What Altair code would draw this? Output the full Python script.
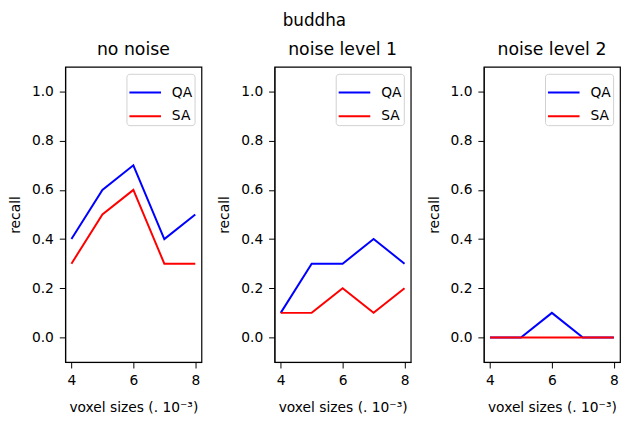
import altair as alt
import pandas as pd

voxel = [4, 5, 6, 7, 8]
panels = ["no noise", "noise level 1", "noise level 2"]
qa = {
    "no noise": [0.4, 0.6, 0.7, 0.4, 0.5],
    "noise level 1": [0.1, 0.3, 0.3, 0.4, 0.3],
    "noise level 2": [0.0, 0.0, 0.1, 0.0, 0.0],
}
sa = {
    "no noise": [0.3, 0.5, 0.6, 0.3, 0.3],
    "noise level 1": [0.1, 0.1, 0.2, 0.1, 0.2],
    "noise level 2": [0.0, 0.0, 0.0, 0.0, 0.0],
}

rows = []
for p in panels:
    for s, vals in (("QA", qa[p]), ("SA", sa[p])):
        for x, y in zip(voxel, vals):
            rows.append({"panel": p, "series": s, "x": x, "y": y})
df = pd.DataFrame(rows)

FONT = "DejaVu Sans"


def panel(p):
    return (
        alt.Chart(df[df.panel == p])
        .mark_line(strokeWidth=2)
        .encode(
            x=alt.X("x:Q", scale=alt.Scale(domain=[3.8, 8.2], nice=False, zero=False),
                    axis=alt.Axis(values=[4, 6, 8], title="voxel sizes (. 10⁻³)", format="d",
                                  titlePadding=13)),
            y=alt.Y("y:Q", scale=alt.Scale(domain=[-0.1, 1.1], nice=False),
                    axis=alt.Axis(values=[0, 0.2, 0.4, 0.6, 0.8, 1.0], format=".1f", title="recall")),
            color=alt.Color("series:N", scale=alt.Scale(domain=["QA", "SA"], range=["#0000ff", "#ff0000"]),
                            legend=alt.Legend(title=None, orient="top-right", symbolType="stroke",
                                              symbolStrokeWidth=2, symbolSize=1024,
                                              fillColor="white", strokeColor="#d0d0d0",
                                              cornerRadius=3, padding=2, offset=7,
                                              labelFontSize=14, labelFont=FONT, labelColor="black",
                                              labelOffset=10, rowPadding=-4)),
        )
        .properties(width=138, height=299, title=p)
    )


chart = (
    alt.hconcat(*[panel(p) for p in panels], spacing=15)
    .resolve_legend(color="independent")
    .resolve_scale(color="independent")
    .properties(title=alt.TitleParams("buddha", anchor="middle", fontSize=17, font=FONT,
                                      fontWeight="normal", offset=10),
                padding={"left": 0, "top": 1, "right": 0, "bottom": 0})
    .configure_view(stroke="black", strokeWidth=1.2)
    .configure_axis(grid=False, domainColor="black", tickColor="black", labelColor="black",
                    titleColor="black", labelFont=FONT, titleFont=FONT, labelFontSize=14,
                    titleFontSize=14, titleFontWeight="normal", tickSize=6, labelPadding=6,
                    titlePadding=9)
    .configure_title(font=FONT, fontSize=17.5, fontWeight="normal", color="black", offset=9)
)

chart.save("out.html", embed_options={"renderer": "svg", "actions": False})
